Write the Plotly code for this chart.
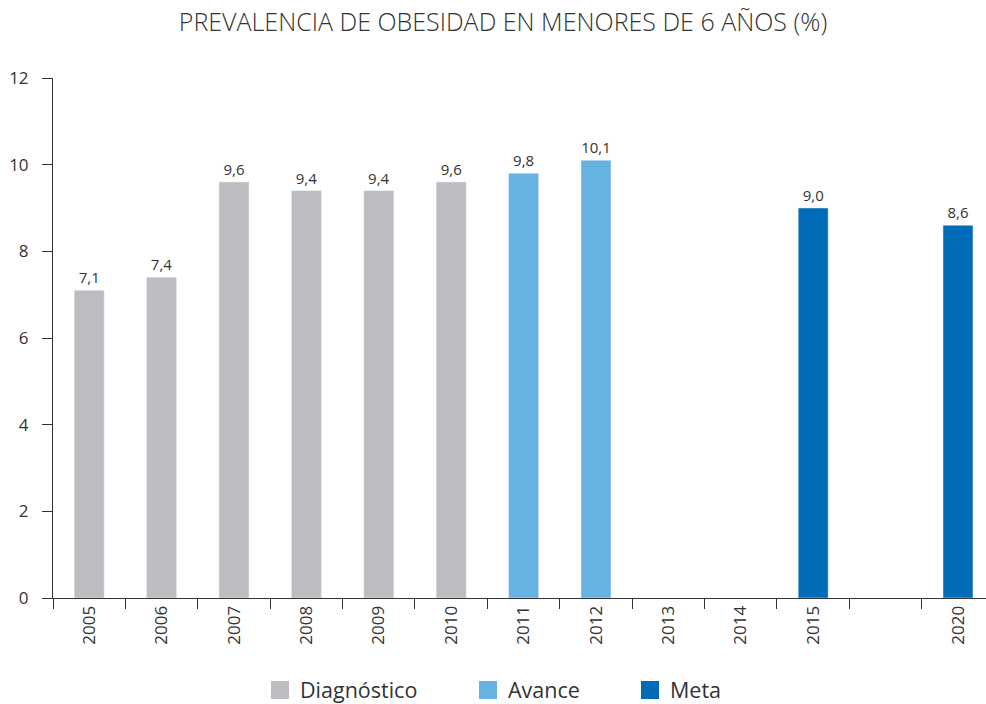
import plotly.graph_objects as go

categories = ["2005", "2006", "2007", "2008", "2009", "2010", "2011", "2012",
              "2013", "2014", "2015", " ", "2020"]

diag_years = ["2005", "2006", "2007", "2008", "2009", "2010"]
diag_values = [7.1, 7.4, 9.6, 9.4, 9.4, 9.6]

avance_years = ["2011", "2012"]
avance_values = [9.8, 10.1]

meta_years = ["2015", "2020"]
meta_values = [9.0, 8.6]

y_ticks = [0, 2, 4, 6, 8, 10, 12]

FONT = "Open Sans"
TXT = "#333333"

W, H = 986, 704

series = [
    ("Diagnóstico", diag_years, diag_values, "#BCBDC0", "legend", 260),
    ("Avance", avance_years, avance_values, "#66B2E3", "legend2", 468),
    ("Meta", meta_years, meta_values, "#006BB6", "legend3", 630),
]

fig = go.Figure()
for name, xs, ys, col, lg, lx in series:
    fig.add_trace(go.Bar(
        x=xs, y=ys, name=name, marker_color=col, width=0.414,
        texttemplate="%{y:.1f}", textposition="outside", cliponaxis=False,
        textfont=dict(family=FONT, size=15, color=TXT),
        showlegend=False,
    ))
    fig.add_trace(go.Scatter(
        x=[None], y=[None], mode="markers", name=name, legend=lg,
        marker=dict(symbol="square", size=16, color=col,
                    line=dict(color=col, width=2)),
        showlegend=True, hoverinfo="skip",
    ))

legend_common = dict(orientation="h", xref="container", yref="container",
                     xanchor="left", yanchor="middle", y=1 - 690 / H,
                     font=dict(family=FONT, size=21.5, color=TXT),
                     bgcolor="rgba(0,0,0,0)", borderwidth=0, itemwidth=30)

layout_legends = {}
for name, xs, ys, col, lg, lx in series:
    layout_legends[lg] = dict(legend_common, x=lx / W)

fig.update_layout(
    width=W, height=H,
    barmode="overlay",
    separators=",.",
    paper_bgcolor="white", plot_bgcolor="white",
    margin=dict(l=53, r=0, t=78, b=106),
    title=dict(text="PREVALENCIA DE OBESIDAD EN MENORES DE 6 AÑOS (%)",
               x=503 / W, xanchor="center", y=1 - 22.5 / H, yanchor="middle",
               font=dict(family=FONT, size=25, color=TXT, weight=300)),
    font=dict(family=FONT, color=TXT),
    **layout_legends,
)
fig.update_xaxes(
    type="category", categoryorder="array", categoryarray=categories,
    range=[-0.5, 12.387], automargin=False,
    tickson="boundaries", ticks="outside", ticklen=10, tickcolor="#333333",
    showline=True, linecolor="#333333", linewidth=1,
    tickangle=-90, tickfont=dict(family=FONT, size=17, color=TXT),
    showgrid=False,
)
fig.update_yaxes(
    range=[0, 12], tickvals=y_ticks, ticks="outside", ticklen=10,
    tickcolor="#333333", showline=True, linecolor="#333333", linewidth=1,
    showgrid=False, zeroline=False, automargin=False, ticklabelstandoff=10,
    tickfont=dict(family=FONT, size=17, color=TXT),
)

fig.write_html("out.html", config={"displayModeBar": False},
               post_script="document.body.style.margin='0px';")
